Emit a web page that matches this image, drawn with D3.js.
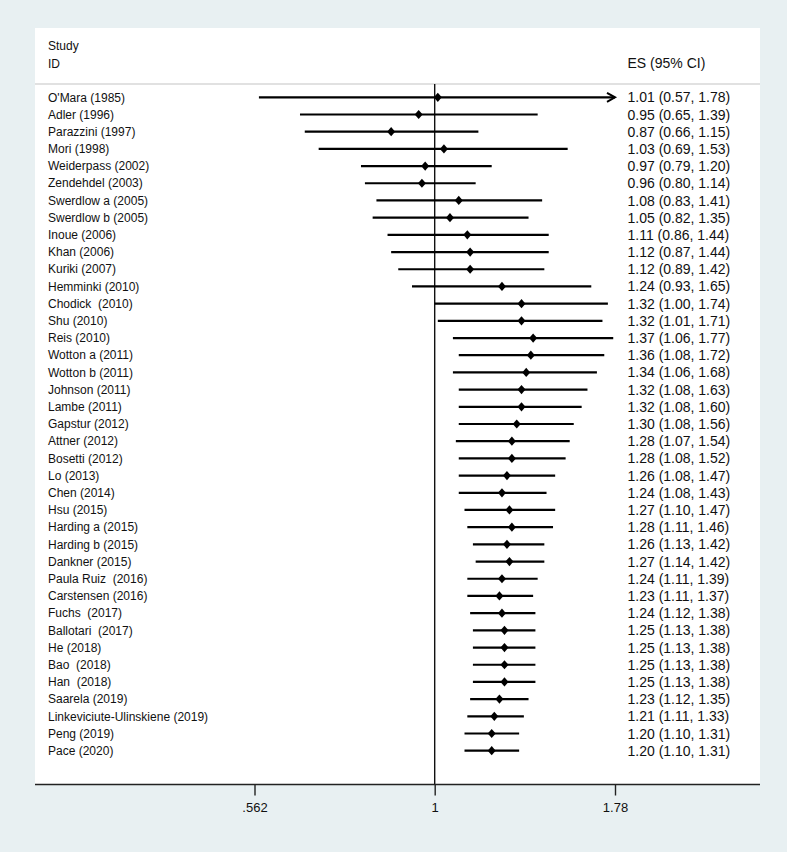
<!DOCTYPE html>
<html>
<head>
<meta charset="utf-8">
<script src="https://cdn.jsdelivr.net/npm/d3@7"></script>
<style>
  html, body { margin: 0; padding: 0; background: #e8f0f2; }
  svg { display: block; }
  text { font-family: "Liberation Sans", Arial, sans-serif; fill: #111; white-space: pre; }
</style>
</head>
<body>
<svg id="chart" width="787" height="852"></svg>
<script>
const studies = [
  "O'Mara (1985)", "Adler (1996)", "Parazzini (1997)", "Mori (1998)", "Weiderpass (2002)",
  "Zendehdel (2003)", "Swerdlow a (2005)", "Swerdlow b (2005)", "Inoue (2006)", "Khan (2006)",
  "Kuriki (2007)", "Hemminki (2010)", "Chodick  (2010)", "Shu (2010)", "Reis (2010)",
  "Wotton a (2011)", "Wotton b (2011)", "Johnson (2011)", "Lambe (2011)", "Gapstur (2012)",
  "Attner (2012)", "Bosetti (2012)", "Lo (2013)", "Chen (2014)", "Hsu (2015)",
  "Harding a (2015)", "Harding b (2015)", "Dankner (2015)", "Paula Ruiz  (2016)", "Carstensen (2016)",
  "Fuchs  (2017)", "Ballotari  (2017)", "He (2018)", "Bao  (2018)", "Han  (2018)",
  "Saarela (2019)", "Linkeviciute-Ulinskiene (2019)", "Peng (2019)", "Pace (2020)"
];
const es = [
  1.01, 0.95, 0.87, 1.03, 0.97, 0.96, 1.08, 1.05, 1.11, 1.12,
  1.12, 1.24, 1.32, 1.32, 1.37, 1.36, 1.34, 1.32, 1.32, 1.30,
  1.28, 1.28, 1.26, 1.24, 1.27, 1.28, 1.26, 1.27, 1.24, 1.23,
  1.24, 1.25, 1.25, 1.25, 1.25, 1.23, 1.21, 1.20, 1.20
];
const lower = [
  0.57, 0.65, 0.66, 0.69, 0.79, 0.80, 0.83, 0.82, 0.86, 0.87,
  0.89, 0.93, 1.00, 1.01, 1.06, 1.08, 1.06, 1.08, 1.08, 1.08,
  1.07, 1.08, 1.08, 1.08, 1.10, 1.11, 1.13, 1.14, 1.11, 1.11,
  1.12, 1.13, 1.13, 1.13, 1.13, 1.12, 1.11, 1.10, 1.10
];
const upper = [
  1.78, 1.39, 1.15, 1.53, 1.20, 1.14, 1.41, 1.35, 1.44, 1.44,
  1.42, 1.65, 1.74, 1.71, 1.77, 1.72, 1.68, 1.63, 1.60, 1.56,
  1.54, 1.52, 1.47, 1.43, 1.47, 1.46, 1.42, 1.42, 1.39, 1.37,
  1.38, 1.38, 1.38, 1.38, 1.38, 1.35, 1.33, 1.31, 1.31
];
const tickValues = [0.562, 1, 1.78];
const tickLabels = [".562", "1", "1.78"];
const headerStudy = ["Study", "ID"];
const headerES = "ES (95% CI)";

const data = studies.map((s, i) => ({ study: s, es: es[i], lo: lower[i], hi: upper[i] }));

const svg = d3.select("#chart");
const plot = { left: 35, right: 760, top: 28, bottom: 784.5 };

// plot region
svg.append("rect")
  .attr("x", plot.left).attr("y", plot.top)
  .attr("width", plot.right - plot.left).attr("height", plot.bottom - plot.top)
  .attr("fill", "#ffffff");

const x = d3.scaleLog().domain([0.562, 1.78]).range([254.5, 615]);
const y = d3.scaleLinear().domain([0, studies.length - 1]).range([97.3, 750.7]);
const fmt = d3.format(".2f");

// header
svg.append("text").attr("x", 48).attr("y", 50).attr("font-size", 12).text(headerStudy[0]);
svg.append("text").attr("x", 48).attr("y", 67.5).attr("font-size", 12).text(headerStudy[1]);
svg.append("text").attr("x", 627.5).attr("y", 68).attr("font-size", 14).text(headerES);

svg.append("line")
  .attr("x1", plot.left).attr("x2", plot.right)
  .attr("y1", 84).attr("y2", 84)
  .attr("stroke", "#c4c4c4").attr("stroke-width", 1.2);

// null line at 1
svg.append("line")
  .attr("x1", x(1)).attr("x2", x(1))
  .attr("y1", 84).attr("y2", plot.bottom)
  .attr("stroke", "#111").attr("stroke-width", 1.4);

const rows = svg.append("g").selectAll("g").data(data).join("g")
  .attr("transform", (d, i) => `translate(0,${y(i)})`);

const xmin = x.domain()[0], xmax = x.domain()[1];

rows.append("line")
  .attr("x1", d => x(Math.max(d.lo, xmin)))
  .attr("x2", d => x(Math.min(d.hi, xmax)))
  .attr("y1", 0).attr("y2", 0)
  .attr("stroke", "#000").attr("stroke-width", 2.2);

// arrowheads where CI reaches the axis limit
rows.filter(d => d.hi >= xmax).append("path")
  .attr("d", d => {
    const t = x(xmax);
    return `M${t - 8},-4.5 L${t},0 L${t - 8},4.5`;
  })
  .attr("fill", "none").attr("stroke", "#000").attr("stroke-width", 2);

rows.append("path")
  .attr("d", d => {
    const cx = x(d.es);
    return `M${cx},-4.6 L${cx + 4},0 L${cx},4.6 L${cx - 4},0 Z`;
  })
  .attr("fill", "#000");

rows.append("text")
  .attr("x", 48).attr("dy", "0.35em").attr("font-size", 12)
  .text(d => d.study);

rows.append("text")
  .attr("x", 627.5).attr("dy", "0.36em").attr("font-size", 14)
  .text(d => `${fmt(d.es)} (${fmt(d.lo)}, ${fmt(d.hi)})`);

// x axis
svg.append("line")
  .attr("x1", plot.left).attr("x2", plot.right)
  .attr("y1", plot.bottom).attr("y2", plot.bottom)
  .attr("stroke", "#222").attr("stroke-width", 1.6);

const axis = d3.axisBottom(x)
  .tickValues(tickValues)
  .tickFormat((d, i) => tickLabels[i])
  .tickSize(11).tickPadding(7);

const gx = svg.append("g").attr("transform", `translate(0,${plot.bottom})`).call(axis);
gx.select(".domain").remove();
gx.selectAll(".tick line").attr("stroke", "#222").attr("stroke-width", 1.4);
gx.selectAll(".tick text")
  .attr("font-size", 13)
  .attr("font-family", "'Liberation Sans', Arial, sans-serif")
  .attr("fill", "#111");
</script>
</body>
</html>
